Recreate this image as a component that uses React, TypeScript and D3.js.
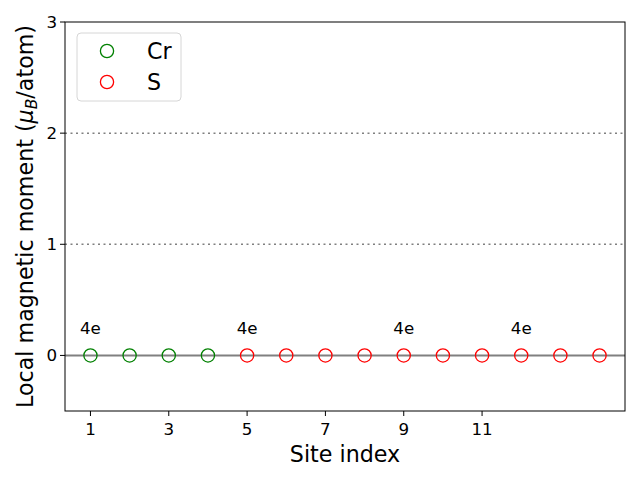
import React from "react";
import * as d3 from "d3";

const crSites = [1, 2, 3, 4];
const crMoments = [0, 0, 0, 0];
const sSites = [5, 6, 7, 8, 9, 10, 11, 12, 13, 14];
const sMoments = [0, 0, 0, 0, 0, 0, 0, 0, 0, 0];
const xTicks = [1, 3, 5, 7, 9, 11];
const yTicks = [0, 1, 2, 3];
const dottedLevels = [1, 2];
const annotSites = [1, 5, 9, 12];
const annotLabels = ["4e", "4e", "4e", "4e"];
const annotY = 0.25;

const W = 640, H = 480;
const M = { left: 65, right: 625, top: 22, bottom: 411 };
const FONT = "DejaVu Sans, sans-serif";

export default function App() {
  const x = d3.scaleLinear().domain([0.35, 14.65]).range([M.left, M.right]);
  const y = d3.scaleLinear().domain([-0.5, 3]).range([M.bottom, M.top]);
  const r = 6.6;
  const sw = 1.3;
  return (
    <div style={{ position: "fixed", left: 0, top: 0 }}>
      <svg width={W} height={H} style={{ display: "block", background: "#fff" }}>
        {dottedLevels.map((v) => (
          <line key={v} x1={M.left} x2={M.right} y1={y(v)} y2={y(v)} stroke="#808080" strokeWidth={1.5} strokeDasharray="2,3.5" />
        ))}
        <line x1={M.left} x2={M.right} y1={y(0)} y2={y(0)} stroke="#808080" strokeWidth={2} />
        {crSites.map((s, i) => (
          <circle key={"c" + s} cx={x(s)} cy={y(crMoments[i])} r={r} fill="none" stroke="green" strokeWidth={sw} />
        ))}
        {sSites.map((s, i) => (
          <circle key={"s" + s} cx={x(s)} cy={y(sMoments[i])} r={r} fill="none" stroke="red" strokeWidth={sw} />
        ))}
        {annotSites.map((s, i) => (
          <text key={"a" + i} x={x(s)} y={y(annotY) + 6} textAnchor="middle" fontFamily={FONT} fontSize={16.7}>
            {annotLabels[i]}
          </text>
        ))}
        <rect x={M.left} y={M.top} width={M.right - M.left} height={M.bottom - M.top} fill="none" stroke="#000" strokeWidth={1} />
        {xTicks.map((t) => (
          <g key={"xt" + t}>
            <line x1={x(t)} x2={x(t)} y1={M.bottom} y2={M.bottom + 5} stroke="#000" />
            <text x={x(t)} y={M.bottom + 24} textAnchor="middle" fontFamily={FONT} fontSize={16.7}>{t}</text>
          </g>
        ))}
        {yTicks.map((t) => (
          <g key={"yt" + t}>
            <line x1={M.left - 5} x2={M.left} y1={y(t)} y2={y(t)} stroke="#000" />
            <text x={M.left - 8} y={y(t) + 6} textAnchor="end" fontFamily={FONT} fontSize={16.7}>{t}</text>
          </g>
        ))}
        <text x={(M.left + M.right) / 2} y={462} textAnchor="middle" fontFamily={FONT} fontSize={22.2}>Site index</text>
        <text transform={`translate(33, ${(M.top + M.bottom) / 2}) rotate(-90)`} textAnchor="middle" fontFamily={FONT} fontSize={22.2}>
          Local magnetic moment (
          <tspan fontStyle="italic">μ</tspan>
          <tspan fontStyle="italic" fontSize={15.5} dy={4}>B</tspan>
          <tspan dy={-4}>/atom)</tspan>
        </text>
        <g>
          <rect x={77} y={33} width={104} height={68} rx={4} fill="#fff" fillOpacity={0.8} stroke="#d6d6d6" strokeWidth={1} />
          <circle cx={107} cy={51} r={r} fill="none" stroke="green" strokeWidth={sw} />
          <text x={147} y={59} fontFamily={FONT} fontSize={22.2}>Cr</text>
          <circle cx={107} cy={82} r={r} fill="none" stroke="red" strokeWidth={sw} />
          <text x={147} y={90} fontFamily={FONT} fontSize={22.2}>S</text>
        </g>
      </svg>
    </div>
  );
}
